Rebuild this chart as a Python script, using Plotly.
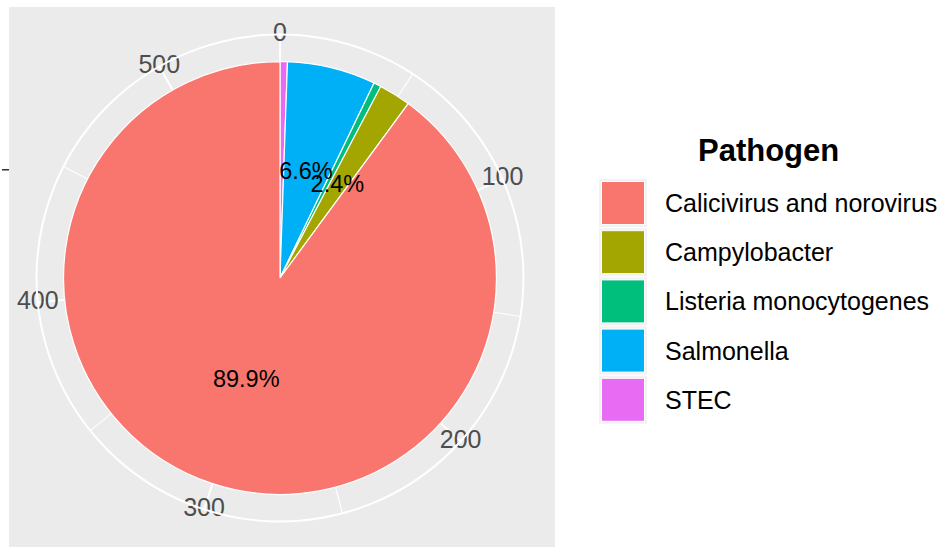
import plotly.graph_objects as go

# ---------------- data ----------------
categories = ["Calicivirus and norovirus", "Campylobacter", "Listeria monocytogenes", "Salmonella", "STEC"]
counts = [490, 13, 3, 36, 3]
colors = ["#F8766D", "#A3A500", "#00BF7D", "#00B0F6", "#E76BF3"]
theta_major = [0, 100, 200, 300, 400, 500]
theta_minor = [50, 150, 250, 350, 450]
legend_title = "Pathogen"

# ---------------- geometry / style ----------------
W, H = 942, 547
cx, cy, R = 280, 278, 243.5
FONT = "Liberation Sans, Arial, sans-serif"


def px(x):
    return x / W


def py(y):
    return 1 - y / H


total = sum(counts)


def to_deg(v):
    return v / total * 360.0


# ggplot stacks in reverse factor order, starting at 12 o'clock
order = list(range(len(categories)))[::-1]
starts = {}
acc = 0
for i in order:
    starts[i] = acc
    acc += counts[i]

mids = [to_deg(starts[i] + counts[i] / 2) for i in range(len(categories))]
widths = [to_deg(c) for c in counts]

fig = go.Figure()

# minor theta grid spokes (outside pie)
for m in theta_minor:
    d = to_deg(m)
    fig.add_trace(go.Scatterpolar(r=[0.4, 0.45], theta=[d, d], mode="lines",
                                  line=dict(color="white", width=1.1),
                                  hoverinfo="skip", showlegend=False))

# pie slices
for i in order:
    fig.add_trace(go.Barpolar(
        r=[0.4], theta=[mids[i]], width=[widths[i]],
        marker=dict(color=colors[i], line=dict(color="white", width=1.2)),
        name=categories[i], showlegend=False))

# percentage labels (only > 1%)
pct_text, pct_theta = [], []
for i in range(len(categories)):
    p = counts[i] / total * 100
    if p >= 1:
        pct_text.append(f"{p:.1f}%")
        pct_theta.append(mids[i])
fig.add_trace(go.Scatterpolar(r=[0.2] * len(pct_text), theta=pct_theta, text=pct_text,
                              mode="text", textposition="middle center",
                              textfont=dict(family=FONT, size=23.5, color="black"),
                              cliponaxis=False, hoverinfo="skip", showlegend=False))

# theta axis labels centred on outer circle (ggplot style)
fig.add_trace(go.Scatterpolar(r=[0.45] * len(theta_major), theta=[to_deg(t) for t in theta_major],
                              text=[str(t) for t in theta_major], mode="text",
                              textposition="middle center",
                              textfont=dict(family=FONT, size=25, color="#4D4D4D"),
                              cliponaxis=False, hoverinfo="skip", showlegend=False))

shapes = []
# grey panel
shapes.append(dict(type="rect", xref="paper", yref="paper",
                   x0=px(9), x1=px(555), y0=py(547), y1=py(7),
                   fillcolor="#EBEBEB", line=dict(width=0), layer="below"))
# y axis tick (blank label) at left
shapes.append(dict(type="line", xref="paper", yref="paper",
                   x0=px(2), x1=px(9), y0=py(cy - R * 0.2 / 0.45), y1=py(cy - R * 0.2 / 0.45),
                   line=dict(color="#333333", width=1.5)))

annotations = []
# manual legend
key_x0, key_size = 599, 48
row0, row_step = 203, 49.2
for k, (cat, col) in enumerate(zip(categories, colors)):
    yc = row0 + k * row_step
    shapes.append(dict(type="rect", xref="paper", yref="paper",
                       x0=px(key_x0), x1=px(key_x0 + key_size),
                       y0=py(yc + key_size / 2), y1=py(yc - key_size / 2),
                       fillcolor="#F2F2F2", line=dict(width=0)))
    shapes.append(dict(type="rect", xref="paper", yref="paper",
                       x0=px(key_x0 + 2.5), x1=px(key_x0 + key_size - 2.5),
                       y0=py(yc + 21.5), y1=py(yc - 21.5),
                       fillcolor=col, line=dict(color="white", width=1)))
    annotations.append(dict(xref="paper", yref="paper", x=px(663), y=py(yc),
                            text=cat, showarrow=False, xanchor="left", yanchor="middle",
                            font=dict(family=FONT, size=25, color="black")))
annotations.append(dict(xref="paper", yref="paper", x=px(768), y=py(151),
                        text=f"<b>{legend_title}</b>", showarrow=False,
                        xanchor="center", yanchor="middle",
                        font=dict(family=FONT, size=31, color="black")))

fig.update_layout(
    width=W, height=H,
    margin=dict(l=0, r=0, t=0, b=0),
    paper_bgcolor="white",
    plot_bgcolor="white",
    showlegend=False,
    shapes=shapes,
    annotations=annotations,
    polar=dict(
        domain=dict(x=[px(cx - R), px(cx + R)], y=[py(cy + R), py(cy - R)]),
        bgcolor="rgba(0,0,0,0)",
        radialaxis=dict(range=[0, 0.45], visible=False),
        angularaxis=dict(rotation=90, direction="clockwise",
                         tickvals=[to_deg(t) for t in theta_major],
                         showticklabels=False, ticks="",
                         gridcolor="white", gridwidth=2.2,
                         showline=True, linecolor="white", linewidth=2),
    ),
)

fig.write_html("out.html",
               config={"displayModeBar": False},
               post_script="document.body.style.margin='0';document.body.style.overflow='hidden';")
